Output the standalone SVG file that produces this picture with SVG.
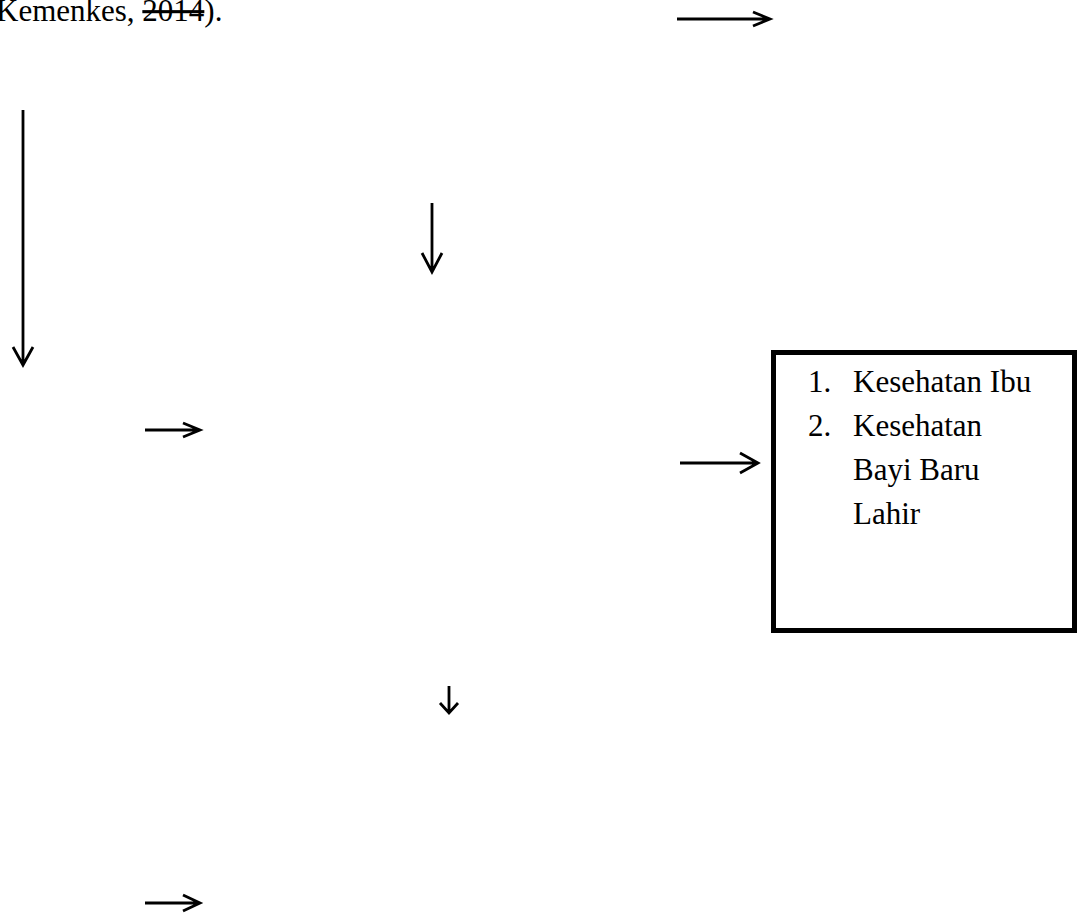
<svg xmlns="http://www.w3.org/2000/svg" width="1077" height="915" viewBox="0 0 1077 915">
<style>
.t{font-family:"Liberation Serif","Times New Roman",serif;font-size:31px;fill:#000}
.a{fill:none;stroke:#000;stroke-width:2.8;stroke-linecap:butt;stroke-linejoin:miter}
.box{fill:#fff;stroke:#000;stroke-width:5}
</style>
<rect width="1077" height="915" fill="#fff"/>
<g id="caption">
<text class="t" x="-4" y="21">Kemenkes, <tspan text-decoration="line-through">2014</tspan>).</text>
</g>
<g id="outcome-box">
<rect class="box" x="773.5" y="352.5" width="301" height="278"/>
<text class="t" x="808" y="392">1.</text>
<text class="t" x="853" y="392">Kesehatan Ibu</text>
<text class="t" x="808" y="436">2.</text>
<text class="t" x="853" y="436">Kesehatan</text>
<text class="t" x="853" y="480">Bayi Baru</text>
<text class="t" x="853" y="524">Lahir</text>
</g>
<g id="connectors">
<path class="a" d="M677,19 H769 M753,12 L770,19 L753,26"/>
<path class="a" d="M23,110 V364 M13,347 L23,365 L33,347"/>
<path class="a" d="M432,203 V271 M422,253 L432,272 L442,253"/>
<path class="a" d="M145,430 H199 M183,423 L200,430 L183,437"/>
<path class="a" d="M680,463 H757 M740,453 L758,463 L740,473"/>
<path class="a" d="M449,686 V712 M440,703 L449,713 L458,703"/>
<path class="a" d="M145,903 H199 M183,895 L200,903 L183,911"/>
</g>
</svg>
